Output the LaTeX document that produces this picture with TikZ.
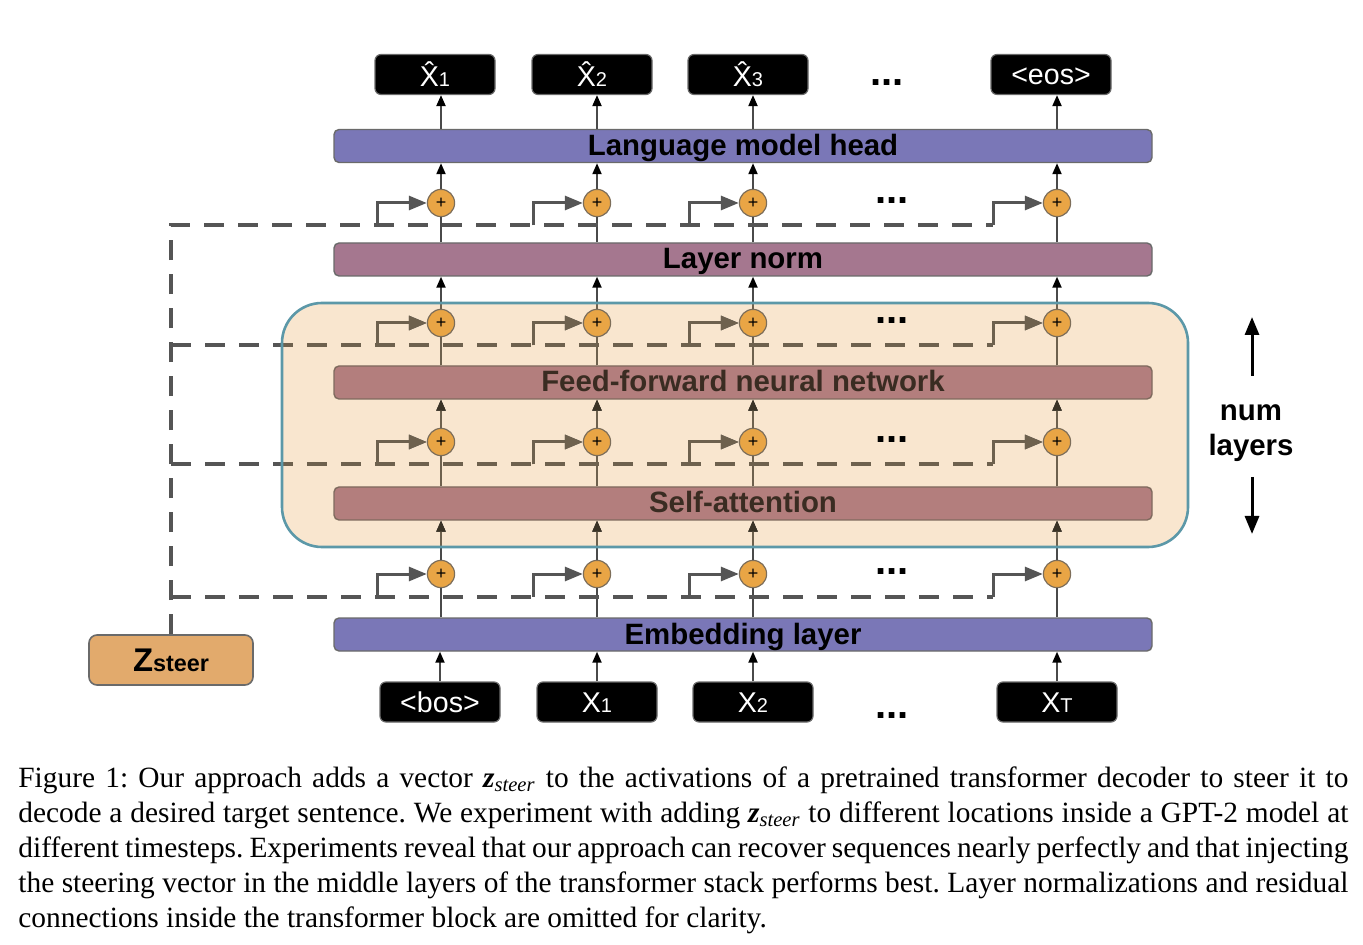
\documentclass[tikz,border=0pt]{standalone}
\usepackage{fontspec}
\setmainfont{Liberation Serif}
\setsansfont{Liberation Sans}
\usetikzlibrary{arrows.meta,calc}
\definecolor{purp}{HTML}{7A77B7}
\definecolor{lnorm}{HTML}{A5778F}
\definecolor{inbar}{HTML}{B37E7D}
\definecolor{inbord}{HTML}{7F6A5E}
\definecolor{blockfill}{HTML}{F9E6CF}
\definecolor{blockline}{HTML}{5C98A8}
\definecolor{plusc}{HTML}{E9A545}
\definecolor{plusb}{HTML}{7D6E5A}
\definecolor{zfill}{HTML}{E2AA6C}
\definecolor{lgray}{HTML}{555555}
\definecolor{wgray}{HTML}{4A4A4A}
\definecolor{ingray}{HTML}{6E614E}
\definecolor{intip}{HTML}{3B3326}
\definecolor{intext}{HTML}{3A2C22}
\definecolor{bordg}{HTML}{6A6A6A}
\newcommand\zst{\textbf{\textit{z}}\textsubscript{\textit{steer}}}
\newcommand\smallsub[1]{{\fontsize{10}{10}\selectfont #1}}
\newcommand\capline[1]{\hbox to 665pt{#1}}
\begin{document}
\begin{tikzpicture}[x=0.5pt,y=-0.5pt,
  bar/.style={draw=bordg, line width=0.7pt, rounded corners=2.5pt, minimum width=409pt, minimum height=16.5pt, inner sep=0pt, text height=11pt, text depth=1.5pt, font=\sffamily\bfseries\fontsize{14.7}{16}\selectfont, text=black},
  tok/.style={fill=black, draw=bordg, line width=0.6pt, rounded corners=3pt, minimum width=60pt, minimum height=20pt, inner sep=0pt, text height=11.5pt, text depth=1.5pt, text=white, font=\sffamily\fontsize{14.3}{16}\selectfont},
  hattok/.style={tok, text height=13.5pt, text depth=1pt},
  plus/.style={circle, fill=plusc, draw=plusb, line width=0.6pt, minimum size=13.6pt, inner sep=0pt, font=\sffamily\fontsize{9}{9}\selectfont},
  conn/.style={line width=1pt, draw=wgray, -{Triangle[length=5.5pt,width=4.5pt,color=black]}},
  wire/.style={line width=1pt, draw=wgray},
  skiparr/.style={line width=1.5pt, draw=lgray, -{Triangle[length=9pt,width=7pt]}},
  steerdash/.style={line width=2pt, draw=lgray, dash pattern=on 10pt off 7pt},
  dots/.style={font=\sffamily\bfseries\fontsize{20}{20}\selectfont, inner sep=0pt},
  bigarr/.style={line width=1.5pt, draw=black, -{Triangle[length=9pt,width=7pt]}}
]
\useasboundingbox (0,0) rectangle (1363,945);

% transformer block background
\fill[blockfill, rounded corners=20pt] (282,303) rectangle (1188,547);

% bars
\node[bar, fill=purp] (lmh) at (743,146) {Language model head};
\node[bar, fill=lnorm] (ln) at (743,259.5) {Layer norm};
\node[bar, fill=inbar, draw=inbord, text=intext] (ffn) at (743,382.5) {Feed-forward neural network};
\node[bar, fill=inbar, draw=inbord, text=intext] (sa) at (743,503.5) {Self-attention};
\node[bar, fill=purp] (emb) at (743,634.5) {Embedding layer};

% tokens
\node[hattok] (t1) at (435,74.5) {\^{X}\smallsub{1}};
\node[hattok] (t2) at (592,74.5) {\^{X}\smallsub{2}};
\node[hattok] (t3) at (748,74.5) {\^{X}\smallsub{3}};
\node[tok] (t4) at (1051,74.5) {<eos>};
\node[tok] (b1) at (440,702) {<bos>};
\node[tok] (b2) at (597,702) {X\smallsub{1}};
\node[tok] (b3) at (753,702) {X\smallsub{2}};
\node[tok] (b4) at (1057,702) {X\smallsub{T}};

% z steer
\node[fill=zfill, draw=bordg, line width=0.8pt, rounded corners=4pt, minimum width=82pt, minimum height=25pt, inner sep=0pt, font=\sffamily\bfseries] (zs) at (171,660)
  {{\fontsize{16.4}{16}\selectfont Z}{\fontsize{11.7}{12}\selectfont steer}};

% plus circles
\foreach \r/\y in {1/203,2/323,3/442,4/574}{
  \foreach \c/\x in {1/441,2/597,3/753,4/1057}{
    \node[plus] (p\r\c) at (\x,\y) {+};
    \coordinate (k\r\c) at (\x-64,\y+22.5);
  }
}

% dots
\node[dots] (d0) at (887,83) {...};
\node[dots] (d1) at (892,201) {...};
\node[dots] (d2) at (892,321) {...};
\node[dots] (d3) at (892,440) {...};
\node[dots] (d4) at (892,572) {...};
\node[dots] (d5) at (892,716) {...};

% num layers
\node[font=\sffamily\bfseries\fontsize{14.7}{17.5}\selectfont, align=center, inner sep=0pt] (nl) at (1251,433) {num\\layers};
\coordinate (ua) at (1252,376);
\coordinate (ub) at (1252,317);
\coordinate (da) at (1252,477);
\coordinate (db) at (1252,534);
\draw[bigarr] (ua) -- (ub);
\draw[bigarr] (da) -- (db);

\newcommand\alllinks{%
  \foreach \c in {1,2,3,4}{
    \draw[conn] (b\c.north) -- (emb.south -| b\c.north);
    \draw[wire] (emb.north -| p4\c) -- (p4\c.south);
    \draw[conn] (p4\c.north) -- (sa.south -| p4\c);
    \draw[wire] (sa.north -| p3\c) -- (p3\c.south);
    \draw[conn] (p3\c.north) -- (ffn.south -| p3\c);
    \draw[wire] (ffn.north -| p2\c) -- (p2\c.south);
    \draw[conn] (p2\c.north) -- (ln.south -| p2\c);
    \draw[wire] (ln.north -| p1\c) -- (p1\c.south);
    \draw[conn] (p1\c.north) -- (lmh.south -| p1\c);
    \draw[conn] (lmh.north -| p1\c) -- (t\c.south -| p1\c);
  }
  \draw[steerdash] (zs.north) -- (zs.north |- k11) -- (k14);
  \foreach \r in {2,3,4}{
    \draw[steerdash] (zs.north |- k\r1) -- (k\r4);
  }
  \foreach \r in {1,2,3,4}{
    \foreach \c in {1,2,3,4}{
      \draw[skiparr] (k\r\c) |- (p\r\c.west);
    }
  }
}
\alllinks
\begin{scope}
  \clip[rounded corners=20pt] (282,303) rectangle (1188,547);
  \tikzset{
    conn/.style={line width=1pt, draw=ingray, -{Triangle[length=5.5pt,width=4.5pt,color=intip]}},
    wire/.style={line width=1pt, draw=ingray},
    skiparr/.style={line width=1.5pt, draw=ingray, -{Triangle[length=9pt,width=7pt,color=ingray]}},
    steerdash/.style={line width=2pt, draw=ingray, dash pattern=on 10pt off 7pt}}
  \alllinks
\end{scope}
% block border
\draw[blockline, line width=1.3pt, rounded corners=20pt] (282,303) rectangle (1188,547);

% caption
\node[anchor=north west, inner sep=0pt, font=\rmfamily\frenchspacing\fontsize{14.7}{17.5}\selectfont] (cap) at (18,766)
{\vbox{\spaceskip=.25em plus .3em minus .1em
\capline{Figure 1: Our approach adds a vector \zst{} to the activations of a pretrained transformer decoder to steer it to}
\capline{decode a desired target sentence. We experiment with adding \zst{} to different locations inside a GPT-2 model at}
\capline{different timesteps. Experiments reveal that our approach can recover sequences nearly perfectly and that injecting}
\capline{the steering vector in the middle layers of the transformer stack performs best. Layer normalizations and residual}
\hbox{connections inside the transformer block are omitted for clarity.}}};
\end{tikzpicture}
\end{document}
